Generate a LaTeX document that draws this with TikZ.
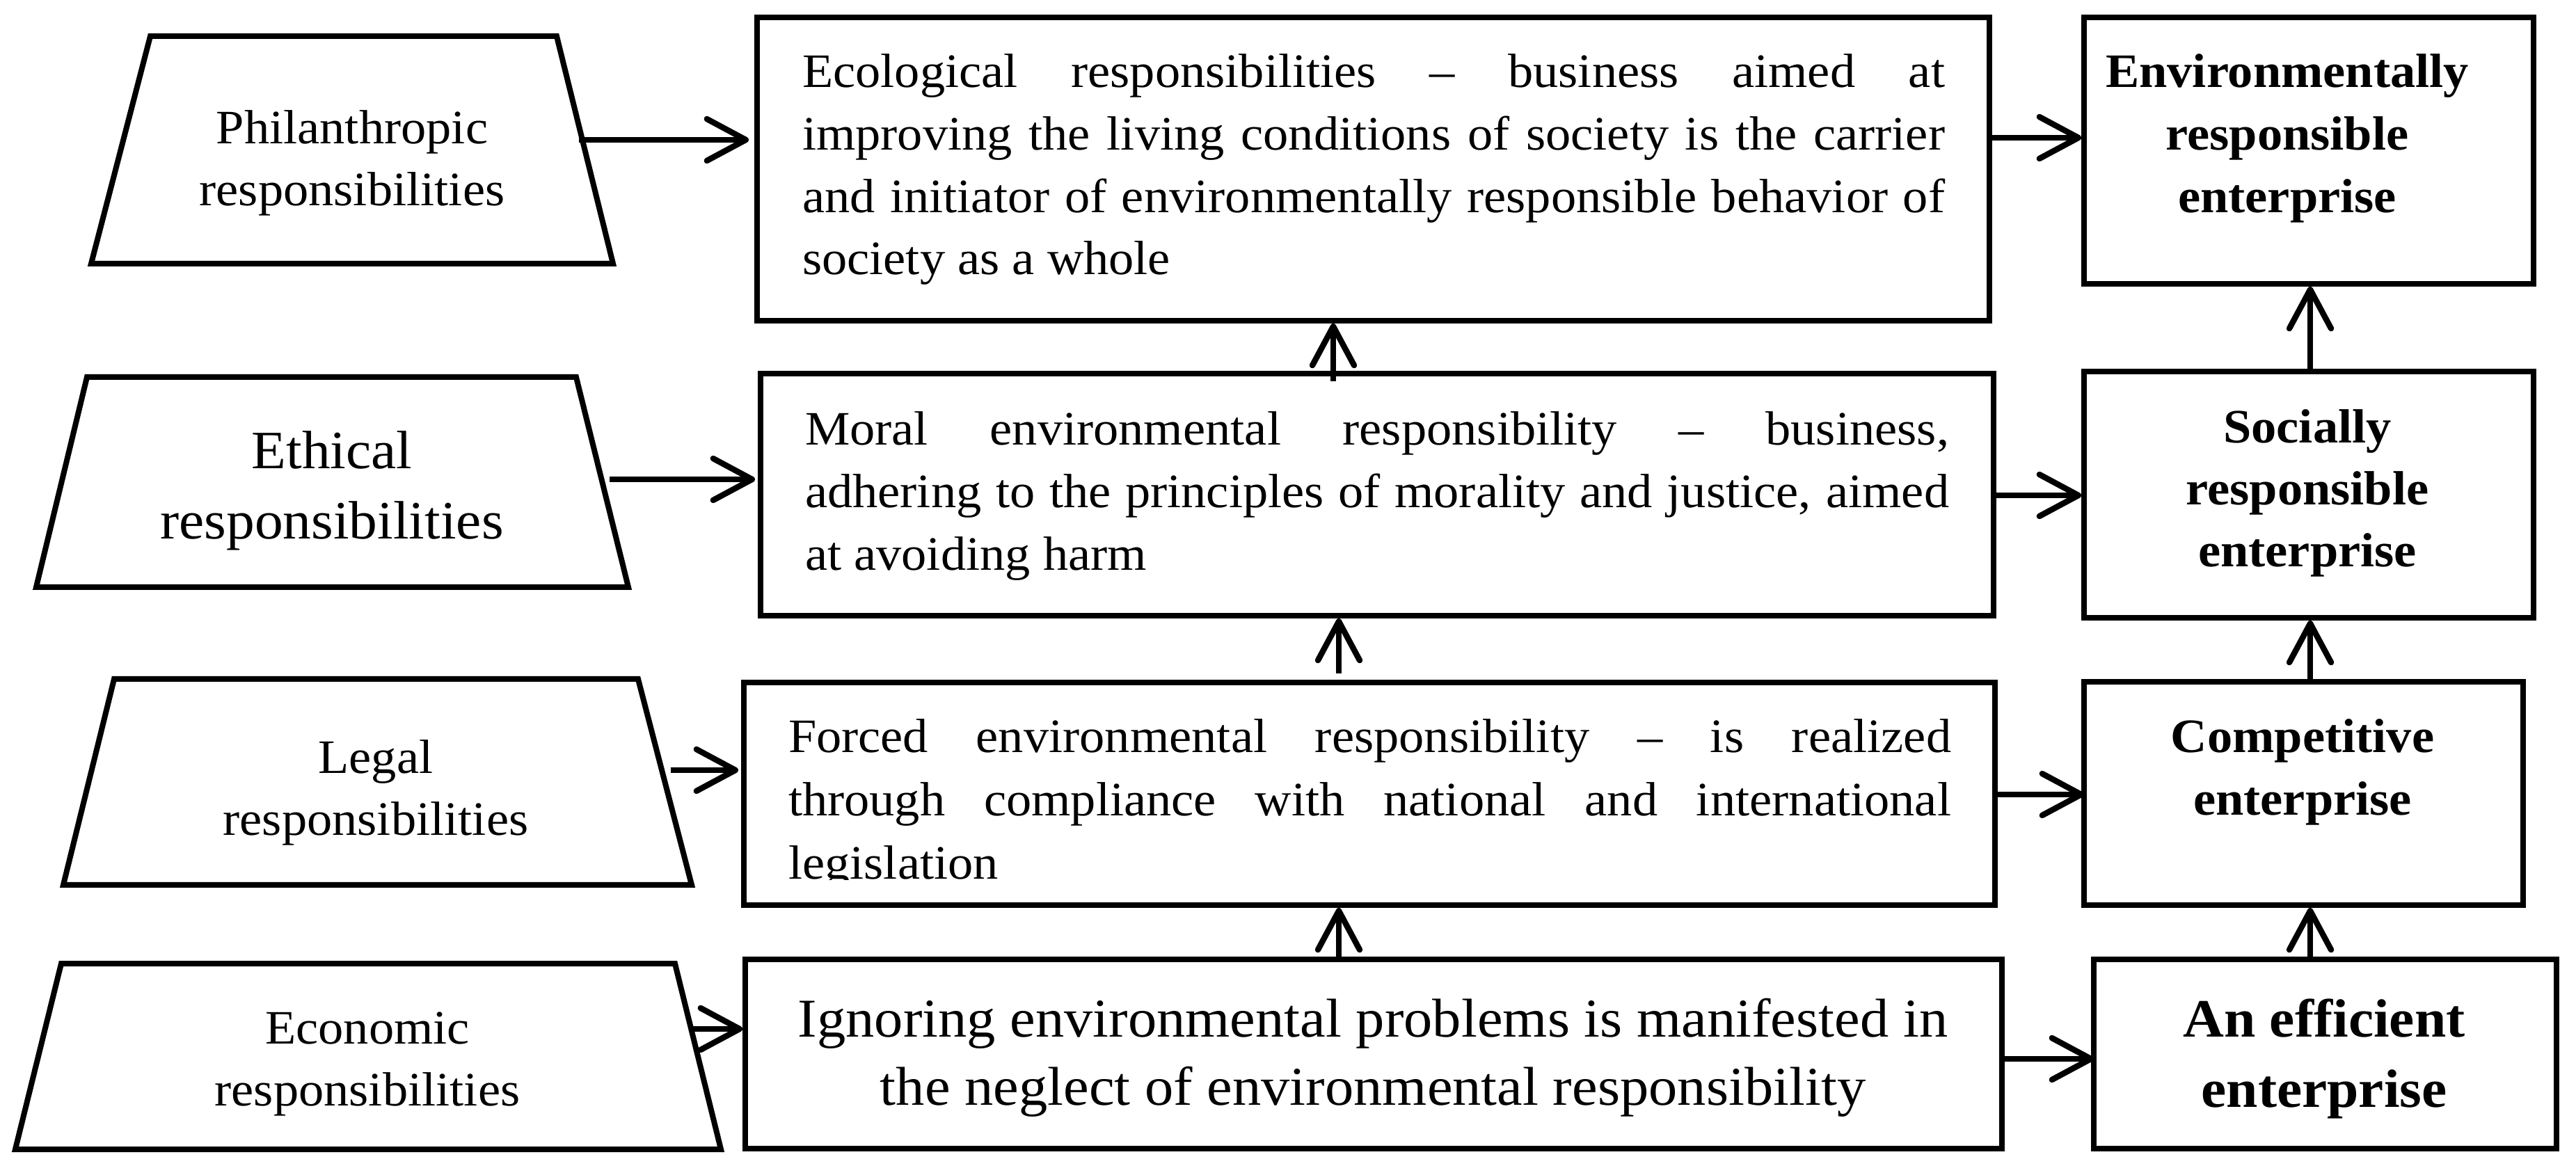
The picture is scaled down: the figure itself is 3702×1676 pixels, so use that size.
\documentclass[tikz,border=0pt]{standalone}
\usepackage{fontspec}
\setmainfont{Liberation Serif}[FakeStretch=1.05]
\usetikzlibrary{arrows.meta,fit}
\newcommand{\jline}[1]{\makebox[\linewidth][s]{#1}}
\tikzset{
  bx/.style={draw, line width=2pt, inner sep=0pt, outer sep=0pt},
  trap/.style={draw, line width=2pt, line join=miter},
  arr/.style={line width=2.1pt, -{Straight Barb[length=14pt,width=15pt,round]}},
  lbl/.style={inner sep=0pt, outer sep=0pt, anchor=base},
}
\begin{document}
\begin{tikzpicture}[x=0.25pt,y=-0.25pt]
\useasboundingbox (0,0) rectangle (3702,1676);
% trapezoids
\draw[trap] (216,52) -- (800,52) -- (881,379) -- (131,379) -- cycle;
\draw[trap] (125,542) -- (828,542) -- (903,844) -- (52,844) -- cycle;
\draw[trap] (164,976) -- (917,976) -- (994,1272) -- (91,1272) -- cycle;
\draw[trap] (88,1385) -- (970,1385) -- (1036,1652) -- (22,1652) -- cycle;
\node[lbl] (philt) at (506,207) {\parbox[t]{200pt}{\centering\fontsize{17.25}{22.25}\selectfont Philanthropic\\ responsibilities}};
\node[lbl] (etht) at (477,674) {\parbox[t]{220pt}{\centering\fontsize{19.4}{25.25}\selectfont Ethical\\ responsibilities}};
\node[lbl] (legt) at (540,1112) {\parbox[t]{200pt}{\centering\fontsize{17.25}{22.25}\selectfont Legal\\ responsibilities}};
\node[lbl] (econt) at (528,1500) {\parbox[t]{200pt}{\centering\fontsize{17.25}{22.25}\selectfont Economic\\ responsibilities}};
% middle boxes
\node[bx, fit={(1088,25) (2859,461)}] (eco) {};
\node[bx, fit={(1093,537) (2865,885)}] (moral) {};
\node[bx, fit={(1069,981) (2867,1301)}] (forced) {};
\node[bx, fit={(1071,1379) (2877,1651)}] (ign) {};
% right boxes
\node[bx, fit={(2995,25) (3641,408)}] (env) {};
\node[bx, fit={(2995,534) (3641,888)}] (soc) {};
\node[bx, fit={(2995,980) (3626,1301)}] (comp) {};
\node[bx, fit={(3009,1379) (3674,1651)}] (eff) {};
% middle texts
\node[lbl, anchor=base west] (ecot) at (1153,126) {\parbox[t]{410.5pt}{\fontsize{17.25}{22.4}\selectfont
\jline{Ecological responsibilities – business aimed at}\\
\jline{improving the living conditions of society is the carrier}\\
\jline{and initiator of environmentally responsible behavior of}\\
society as a whole}};
\node[lbl, anchor=base west] (moralt) at (1157,640) {\parbox[t]{411pt}{\fontsize{17.25}{22.4}\selectfont
\jline{Moral environmental responsibility – business,}\\
\jline{adhering to the principles of morality and justice, aimed}\\
at avoiding harm}};
\begin{scope}
\clip (1069,981) rectangle (2867,1265);
\node[lbl, anchor=base west] (forcedt) at (1133,1082) {\parbox[t]{417.75pt}{\fontsize{17.25}{22.75}\selectfont
\jline{Forced environmental responsibility – is realized}\\
\jline{through compliance with national and international}\\
legislation}};
\end{scope}
\node[lbl] (ignt) at (1973,1490) {\parbox[t]{480pt}{\centering\fontsize{19.65}{24.5}\selectfont Ignoring environmental problems is manifested in\\ the neglect of environmental responsibility}};
% right texts
\node[lbl] (envt) at (3287,126) {\parbox[t]{160pt}{\centering\bfseries\fontsize{17.25}{22.5}\selectfont Environmentally\\ responsible\\ enterprise}};
\node[lbl] (soct) at (3316,637) {\parbox[t]{160pt}{\centering\bfseries\fontsize{17.25}{22.25}\selectfont Socially\\ responsible\\ enterprise}};
\node[lbl] (compt) at (3309,1082) {\parbox[t]{160pt}{\centering\bfseries\fontsize{17.25}{22.5}\selectfont Competitive\\ enterprise}};
\node[lbl] (efft) at (3340,1490) {\parbox[t]{160pt}{\centering\bfseries\fontsize{19.4}{25.25}\selectfont An efficient\\ enterprise}};
% left arrows
\coordinate (a1) at (832,201);
\coordinate (a2) at (876,689);
\coordinate (a3) at (964,1107);
\coordinate (a4) at (994,1479);
\draw[arr, shorten >=3pt] (a1) -- (a1 -| eco.west);
\draw[arr, shorten >=2pt] (a2) -- (a2 -| moral.west);
\draw[arr, shorten >=2pt] (a3) -- (a3 -| forced.west);
\draw[arr, shorten >=1pt] (a4) -- (a4 -| ign.west);
% right arrows
\coordinate (b1) at (0,198);
\coordinate (b2) at (0,712);
\coordinate (b3) at (0,1142);
\coordinate (b4) at (0,1522);
\draw[arr, shorten >=1pt] (b1 -| eco.east) -- (b1 -| env.west);
\draw[arr, shorten >=1pt] (b2 -| moral.east) -- (b2 -| soc.west);
\draw[arr, shorten >=0pt] (b3 -| forced.east) -- (b3 -| comp.west);
\draw[arr, shorten >=0pt] (b4 -| ign.east) -- (b4 -| eff.west);
% vertical arrows
\coordinate (u1) at (1916,548);
\coordinate (u2) at (1924,968);
\coordinate (u3) at (1924,1379);
\coordinate (v) at (3320,0);
\draw[arr, shorten >=1pt] (u1) -- (u1 |- eco.south);
\draw[arr, shorten >=1pt] (u2) -- (u2 |- moral.south);
\draw[arr, shorten >=1pt] (u3) -- (u3 |- forced.south);
\draw[arr, shorten >=1pt] (v |- soc.north) -- (v |- env.south);
\draw[arr, shorten >=1pt] (v |- comp.north) -- (v |- soc.south);
\draw[arr, shorten >=1pt] (v |- eff.north) -- (v |- comp.south);
\end{tikzpicture}
\end{document}
